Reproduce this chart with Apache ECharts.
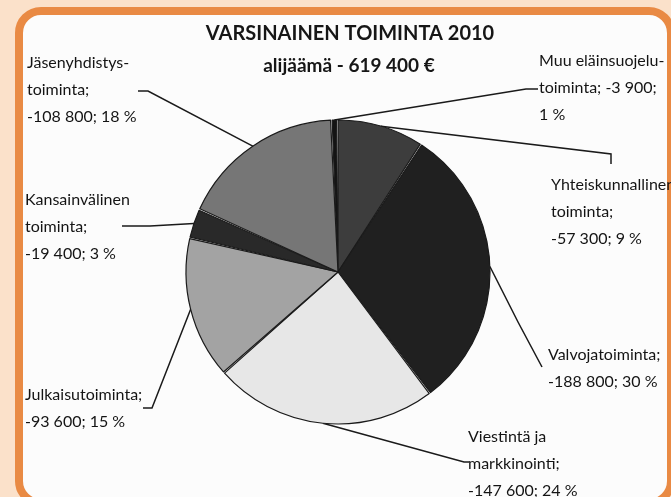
<!DOCTYPE html>
<html>
<head>
<meta charset="utf-8">
<script src="https://cdn.jsdelivr.net/npm/echarts@6/dist/echarts.min.js"></script>
<style>
  html, body { margin: 0; padding: 0; background: #fbe1ca; }
  #chart { width: 671px; height: 497px; }
</style>
</head>
<body>
<div id="chart"></div>
<script>
// data (euros, deficit per activity)
const categories = [
  'Muu eläinsuojelu-\ntoiminta;',
  'Yhteiskunnallinen\ntoiminta;',
  'Valvojatoiminta;',
  'Viestintä ja\nmarkkinointi;',
  'Julkaisutoiminta;',
  'Kansainvälinen\ntoiminta;',
  'Jäsenyhdistys-\ntoiminta;'
];
const amounts = [-3900, -57300, -188800, -147600, -93600, -19400, -108800];
const sliceColors = ['#141414', '#3d3d3d', '#202020', '#e7e7e7', '#a3a3a3', '#292929', '#767676'];
const titleText = 'VARSINAINEN TOIMINTA 2010';
const subtitleText = 'alijäämä - 619 400 €';

// where each label sits and where its leader line bends (page pixels)
const labelPos = [
  { x: 539, y: 47, line: [[526, 89], [538, 89]] },
  { x: 551, y: 171, line: [[611, 154], [611, 164]] },
  { x: 548, y: 341, line: [[518, 322], [542, 367]] },
  { x: 468, y: 423, line: [[464, 462], [469, 462]] },
  { x: 25, y: 381, line: [[152, 408], [143, 408]] },
  { x: 25, y: 186, line: [[150, 226], [122, 226]] },
  { x: 27, y: 49, line: [[148, 91], [138, 91]] }
];

function fmt(n) {
  const s = Math.abs(n).toString().replace(/\B(?=(\d{3})+(?!\d))/g, ' ');
  return (n < 0 ? '-' : '') + s;
}

const myChart = echarts.init(document.getElementById('chart'));

const option = {
  backgroundColor: '#fbe1ca',
  animation: false,
  graphic: [
    {
      type: 'rect',
      z: -10,
      shape: { x: 19, y: 11, width: 652, height: 492, r: 22 },
      style: { fill: '#fcfcfc', stroke: '#e98a44', lineWidth: 8 }
    }
  ],
  title: [
    {
      text: titleText,
      left: 345,
      top: 19,
      textAlign: 'center',
      textStyle: { fontFamily: 'Lato', fontWeight: 'bold', fontSize: 20, color: '#161616' }
    },
    {
      text: subtitleText,
      left: 344,
      top: 51,
      textAlign: 'center',
      textStyle: { fontFamily: 'Lato', fontWeight: 'bold', fontSize: 19, color: '#161616' }
    }
  ],
  series: [
    {
      type: 'pie',
      center: [338, 272],
      radius: 152,
      startAngle: 92.5,
      clockwise: true,
      padAngle: 0.6,
      avoidLabelOverlap: false,
      minShowLabelAngle: 0,
      percentPrecision: 0,
      itemStyle: { borderColor: '#1a1a1a', borderWidth: 1.2 },
      label: {
        show: true,
        position: 'outside',
        fontFamily: 'Lato',
        fontSize: 16,
        lineHeight: 27,
        color: '#141414',
        align: 'left',
        formatter: function (p) {
          return p.name + (p.dataIndex === 0 ? ' ' + fmt(amounts[0]) + ';\n' : '\n' + fmt(amounts[p.dataIndex]) + '; ') + p.percent + ' %';
        }
      },
      labelLine: {
        show: true,
        lineStyle: { color: '#1a1a1a', width: 1.5 }
      },
      labelLayout: function (params) {
        const pos = labelPos[params.dataIndex];
        const start = params.labelLinePoints ? params.labelLinePoints[0] : pos.line[0];
        return {
          x: pos.x,
          y: pos.y,
          align: 'left',
          verticalAlign: 'top',
          labelLinePoints: [start, pos.line[0], pos.line[1]]
        };
      },
      data: categories.map((c, i) => ({
        name: c,
        value: Math.abs(amounts[i]),
        itemStyle: { color: sliceColors[i] }
      }))
    }
  ]
};

myChart.setOption(option);
window.addEventListener('resize', myChart.resize);
</script>
</body>
</html>
